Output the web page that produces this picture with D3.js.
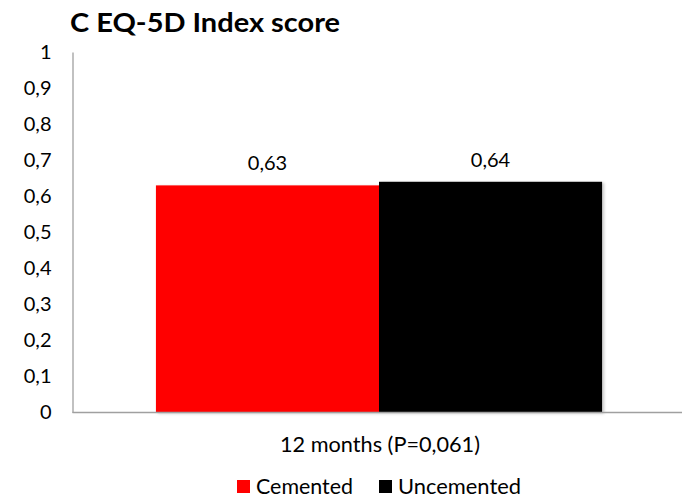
<!DOCTYPE html>
<html>
<head>
<meta charset="utf-8">
<script src="https://cdn.jsdelivr.net/npm/d3@7/dist/d3.min.js"></script>
<style>
  body { margin: 0; background: #fff; }
  text { font-family: Lato, "Open Sans", sans-serif; fill: #000; }
</style>
</head>
<body>
<svg id="chart" width="682" height="502"></svg>
<script>
const categories = ["12 months (P=0,061)"];
const seriesNames = ["Cemented", "Uncemented"];
const seriesColors = ["#ff0000", "#000000"];
const cementedValues = [0.63];
const uncementedValues = [0.64];
const yTicks = [0, 0.1, 0.2, 0.3, 0.4, 0.5, 0.6, 0.7, 0.8, 0.9, 1];

const svg = d3.select("#chart");
const axisX = 72.5, plotRight = 685.5, plotTop = 52, plotBottom = 412.5;

const fmt = v => String(+v.toFixed(2)).replace(".", ",");

const x = d3.scaleBand().domain(categories).range([axisX, plotRight]).paddingOuter(0.187).paddingInner(0);
const xs = d3.scaleBand().domain(seriesNames).range([0, x.bandwidth()]);
const y = d3.scaleLinear().domain([0, 1]).range([plotBottom, plotTop]);

// soft shadow under the bars
const defs = svg.append("defs");
const f = defs.append("filter").attr("id", "barShadow").attr("x", "-5%").attr("y", "-5%").attr("width", "115%").attr("height", "115%");
f.append("feDropShadow").attr("dx", 2).attr("dy", 1).attr("stdDeviation", 1.8)
  .attr("flood-color", "#000").attr("flood-opacity", 0.22);

// title
svg.append("text").attr("x", 70).attr("y", 32)
  .style("font-size", "27px").style("font-weight", "bold")
  .attr("textLength", 270).attr("lengthAdjust", "spacingAndGlyphs")
  .text("C EQ-5D Index score");

// bars
const rows = categories.map((c, i) => ({ cat: c, vals: [cementedValues[i], uncementedValues[i]] }));
const g = svg.append("g");
rows.forEach(r => {
  r.vals.forEach((v, j) => {
    const bx = x(r.cat) + xs(seriesNames[j]);
    g.append("rect")
      .attr("x", bx).attr("y", y(v))
      .attr("width", xs.bandwidth()).attr("height", y(0) - y(v))
      .attr("fill", seriesColors[j])
      .attr("filter", "url(#barShadow)");
  });
});
rows.forEach(r => {
  r.vals.forEach((v, j) => {
    const bx = x(r.cat) + xs(seriesNames[j]);
    g.append("text")
      .attr("x", bx + xs.bandwidth() / 2).attr("y", y(v) - 15)
      .attr("text-anchor", "middle").style("font-size", "20px")
      .text(fmt(v));
  });
});

// y axis
const yAxis = svg.append("g").attr("transform", `translate(${axisX},0)`)
  .call(d3.axisLeft(y).tickValues(yTicks).tickFormat(fmt).tickSize(0).tickPadding(21));
yAxis.select(".domain").attr("stroke", "#a0a0a0").attr("stroke-width", 1.3);
yAxis.selectAll("text").style("font-size", "20px").style("font-family", "Lato, sans-serif").attr("fill", "#000");

// x axis baseline and category labels
svg.append("line").attr("x1", axisX).attr("x2", 682).attr("y1", plotBottom).attr("y2", plotBottom)
  .attr("stroke", "#a0a0a0").attr("stroke-width", 1.3);
svg.selectAll(".xlabel").data(categories).join("text")
  .attr("class", "xlabel")
  .attr("x", d => x(d) + x.bandwidth() / 2 + 1).attr("y", 452)
  .attr("text-anchor", "middle").style("font-size", "21px")
  .attr("textLength", 200).attr("lengthAdjust", "spacingAndGlyphs")
  .text(d => d);

// legend
const legendItems = [
  { name: seriesNames[0], color: seriesColors[0], x: 237, w: 97 },
  { name: seriesNames[1], color: seriesColors[1], x: 379, w: 123 }
];
legendItems.forEach(it => {
  svg.append("rect").attr("x", it.x).attr("y", 480).attr("width", 13).attr("height", 13).attr("fill", it.color);
  svg.append("text").attr("x", it.x + 19).attr("y", 494).style("font-size", "22px")
    .attr("textLength", it.w).attr("lengthAdjust", "spacingAndGlyphs")
    .text(it.name);
});
</script>
</body>
</html>
